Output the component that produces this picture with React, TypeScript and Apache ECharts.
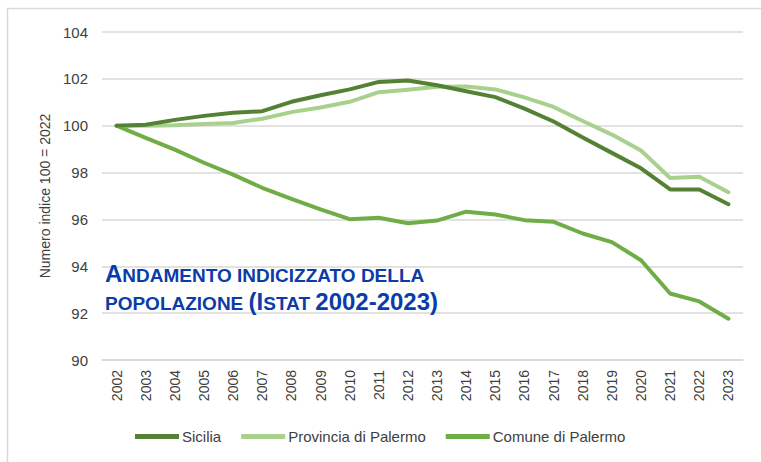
import React, { useEffect, useRef } from "react";
import * as echarts from "echarts";

const years = ["2002","2003","2004","2005","2006","2007","2008","2009","2010","2011","2012","2013","2014","2015","2016","2017","2018","2019","2020","2021","2022","2023"];
const sicilia = [100, 100.04, 100.25, 100.42, 100.55, 100.62, 101.02, 101.3, 101.55, 101.87, 101.93, 101.73, 101.47, 101.22, 100.73, 100.18, 99.5, 98.84, 98.18, 97.28, 97.28, 96.65];
const provincia = [100, 100.0, 100.02, 100.07, 100.12, 100.3, 100.58, 100.78, 101.02, 101.43, 101.54, 101.66, 101.67, 101.55, 101.21, 100.8, 100.2, 99.62, 98.94, 97.77, 97.82, 97.16];
const comune = [100, 99.48, 98.98, 98.42, 97.91, 97.35, 96.88, 96.43, 96.01, 96.07, 95.84, 95.95, 96.33, 96.21, 95.97, 95.9, 95.4, 95.03, 94.26, 92.84, 92.5, 91.76];
const seriesNames = ["Sicilia", "Provincia di Palermo", "Comune di Palermo"];
const seriesColors = ["#548235", "#A9D18E", "#70AD47"];
const yAxisName = "Numero indice 100 = 2022";

export default function App() {
  const ref = useRef<HTMLDivElement>(null);
  useEffect(() => {
    if (!ref.current) return;
    const chart = echarts.init(ref.current, null, { renderer: "svg" });
    const font = "'Liberation Sans', Arial, sans-serif";
    const data = [sicilia, provincia, comune];
    chart.setOption({
      animation: false,
      textStyle: { fontFamily: font },
      grid: { left: 102, right: 18, top: 32, bottom: 102 },
      xAxis: {
        type: "category",
        data: years,
        boundaryGap: true,
        axisLine: { lineStyle: { color: "#d9d9d9", width: 1.5 } },
        axisTick: { show: false },
        axisLabel: { rotate: 90, fontSize: 14, color: "#404040", margin: 10, fontFamily: font },
      },
      yAxis: {
        type: "value",
        min: 90,
        max: 104,
        interval: 2,
        name: yAxisName,
        nameLocation: "middle",
        nameGap: 50,
        nameTextStyle: { fontSize: 14, color: "#404040", fontFamily: font },
        axisLine: { show: false },
        axisTick: { show: false },
        axisLabel: { fontSize: 15, color: "#404040", margin: 14, fontFamily: font },
        splitLine: { lineStyle: { color: "#d9d9d9", width: 1.5 } },
      },
      legend: {
        left: 130,
        top: 424,
        itemWidth: 44,
        itemHeight: 5,
        itemGap: 20,
        icon: "rect",
        textStyle: { fontSize: 15, color: "#404040", fontFamily: font, padding: [0, 0, 0, -2] },
        data: seriesNames,
      },
      series: seriesNames.map((n, i) => ({
        name: n,
        type: "line",
        data: data[i],
        symbol: "none",
        lineStyle: { color: seriesColors[i], width: 4, cap: "round", join: "round" },
        itemStyle: { color: seriesColors[i] },
        z: 3 - i,
      })),
      graphic: [
        {
          type: "rect",
          shape: { x: 7.5, y: 8.5, width: 800, height: 500 },
          style: { fill: "none", stroke: "#d9d9d9", lineWidth: 1.5 },
          silent: true,
        },
        {
          type: "text",
          left: 105,
          top: 261,
          style: {
            text: "{b|A}{s|NDAMENTO INDICIZZATO DELLA}\n{s|POPOLAZIONE }{b|(I}{s|STAT }{b|2002-2023)}",
            rich: {
              b: { fontSize: 24, fontWeight: "bold", fill: "#0B3CA8", fontFamily: font, lineHeight: 28, verticalAlign: "bottom" },
              s: { fontSize: 19, fontWeight: "bold", fill: "#0B3CA8", fontFamily: font, lineHeight: 28, verticalAlign: "bottom" },
            },
          },
          z: 10,
        },
      ],
    });
    return () => chart.dispose();
  }, []);
  return <div ref={ref} style={{ width: 761, height: 462, position: "absolute", left: 0, top: 0, background: "#fff" }} />;
}
